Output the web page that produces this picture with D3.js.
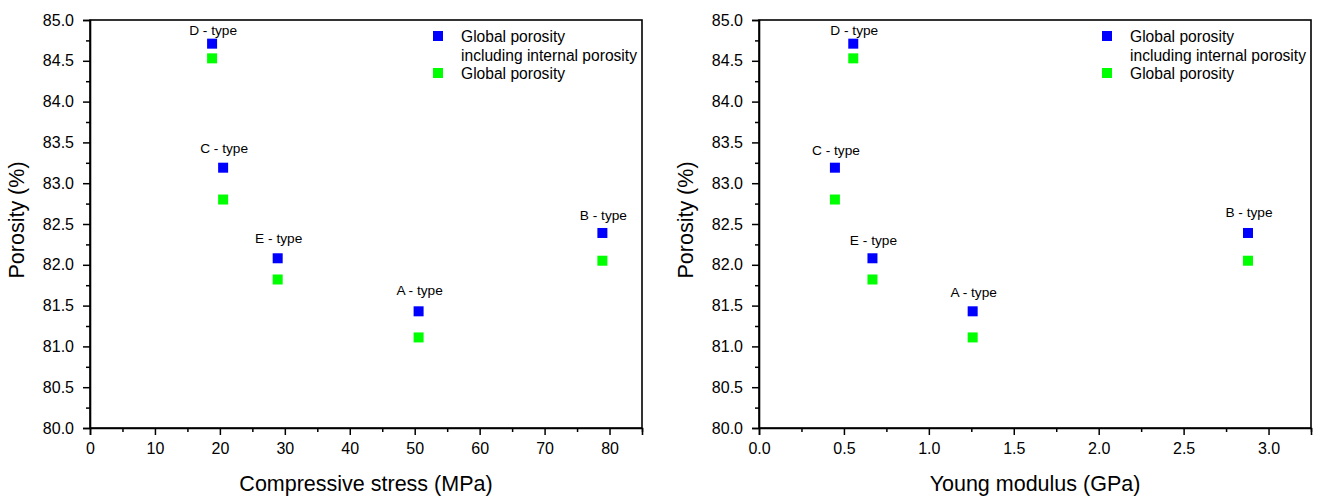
<!DOCTYPE html>
<html>
<head>
<meta charset="utf-8">
<script src="https://cdn.jsdelivr.net/npm/d3@7"></script>
<style>
  html, body { margin: 0; padding: 0; background: #fff; }
  svg { display: block; font-family: "Liberation Sans", Arial, sans-serif; }
</style>
</head>
<body>
<svg id="chart" width="1321" height="496"></svg>
<script>
// ---- data ----
const types = ["D - type", "C - type", "E - type", "A - type", "B - type"];
const compressiveStress = [18.8, 20.5, 28.9, 50.6, 78.9];      // MPa
const youngModulus = [0.555, 0.447, 0.668, 1.258, 2.879];       // GPa
const porosityInternal = [84.71, 83.19, 82.08, 81.43, 82.39];   // %
const porosityGlobal = [84.53, 82.80, 81.82, 81.11, 82.05];     // %
const seriesNames = ["Global porosity\nincluding internal porosity", "Global porosity"];
const seriesColors = ["#0000ff", "#00ff00"];
const yTicks = [80.0, 80.5, 81.0, 81.5, 82.0, 82.5, 83.0, 83.5, 84.0, 84.5, 85.0];
const xTicksLeft = [0, 10, 20, 30, 40, 50, 60, 70, 80];
const xTicksRight = [0.0, 0.5, 1.0, 1.5, 2.0, 2.5, 3.0];

// ---- layout ----
const svg = d3.select("#chart");
const panels = [
  { x0: 90, x1: 642, domain: [0, 85], ticks: xTicksLeft, minorStep: 5, fmt: d3.format("d"),
    xs: compressiveStress, title: "Compressive stress (MPa)", labelDy: [14, 20, 20, 21, 18], legendX: 438 },
  { x0: 759, x1: 1311, domain: [0, 3.25], ticks: xTicksRight, minorStep: 0.25, fmt: d3.format(".1f"),
    xs: youngModulus, title: "Young modulus (GPa)", labelDy: [14, 18, 18, 19, 21], legendX: 1107 }
];
const yTop = 20, yBot = 428;

panels.forEach((p, pi) => {
  const g = svg.append("g");
  const x = d3.scaleLinear().domain(p.domain).range([p.x0, p.x1]);
  const y = d3.scaleLinear().domain([80, 85]).range([yBot, yTop]);

  // frame
  g.append("rect").attr("x", p.x0).attr("y", yTop).attr("width", p.x1 - p.x0).attr("height", yBot - yTop)
    .attr("fill", "none").attr("stroke", "#000").attr("stroke-width", 1.6);

  // x axis
  const minorX = d3.range(p.domain[0], p.domain[1] + 1e-9, p.minorStep).filter(v => !p.ticks.some(t => Math.abs(t - v) < 1e-9));
  const xa = g.append("g").attr("transform", `translate(0,${yBot})`)
    .call(d3.axisBottom(x).tickValues(p.ticks).tickFormat(p.fmt).tickSize(7).tickPadding(8));
  xa.select(".domain").attr("stroke-width", 1.6);
  xa.selectAll(".tick line").attr("stroke-width", 1.5);
  xa.selectAll("text").attr("font-size", 16).attr("fill", "#000");
  const xm = g.append("g").attr("transform", `translate(0,${yBot})`)
    .call(d3.axisBottom(x).tickValues(minorX).tickFormat("").tickSize(4));
  xm.select(".domain").remove();
  xm.selectAll(".tick line").attr("stroke-width", 1.5);

  // y axis
  const minorY = d3.range(80.25, 85, 0.5);
  const ya = g.append("g").attr("transform", `translate(${p.x0},0)`)
    .call(d3.axisLeft(y).tickValues(yTicks).tickFormat(d3.format(".1f")).tickSize(7).tickPadding(9));
  ya.select(".domain").attr("stroke-width", 1.6);
  ya.selectAll(".tick line").attr("stroke-width", 1.5);
  ya.selectAll("text").attr("font-size", 16).attr("fill", "#000");
  const ym = g.append("g").attr("transform", `translate(${p.x0},0)`)
    .call(d3.axisLeft(y).tickValues(minorY).tickFormat("").tickSize(4));
  ym.select(".domain").remove();
  ym.selectAll(".tick line").attr("stroke-width", 1.5);

  // titles
  g.append("text").attr("x", (p.x0 + p.x1) / 2).attr("y", 491).attr("text-anchor", "middle")
    .attr("font-size", 21.5).text(p.title);
  g.append("text").attr("transform", `translate(${p.x0 - 66},${(yTop + yBot) / 2 - 4}) rotate(-90)`)
    .attr("text-anchor", "middle").attr("font-size", 21.5).text("Porosity (%)");

  // points
  const ms = 10;
  [porosityInternal, porosityGlobal].forEach((vals, si) => {
    g.selectAll(null).data(vals).enter().append("rect")
      .attr("x", (d, i) => x(p.xs[i]) - ms / 2).attr("y", d => y(d) - ms / 2)
      .attr("width", ms).attr("height", ms).attr("fill", seriesColors[si]);
  });

  // type labels
  g.selectAll(null).data(types).enter().append("text")
    .attr("x", (d, i) => x(p.xs[i]) + 1)
    .attr("y", (d, i) => y(porosityInternal[i]) - p.labelDy[i] + 5)
    .attr("text-anchor", "middle").attr("font-size", 13.7).text(d => d);

  // legend
  const lg = g.append("g");
  const legendRows = [36, 73];
  seriesNames.forEach((name, si) => {
    lg.append("rect").attr("x", p.legendX - ms / 2).attr("y", legendRows[si] - ms / 2)
      .attr("width", ms).attr("height", ms).attr("fill", seriesColors[si]);
    name.split("\n").forEach((line, li) => {
      lg.append("text").attr("x", p.legendX + 23).attr("y", legendRows[si] + 5.5 + li * 19)
        .attr("font-size", 15.6).text(line);
    });
  });
});
</script>
</body>
</html>
